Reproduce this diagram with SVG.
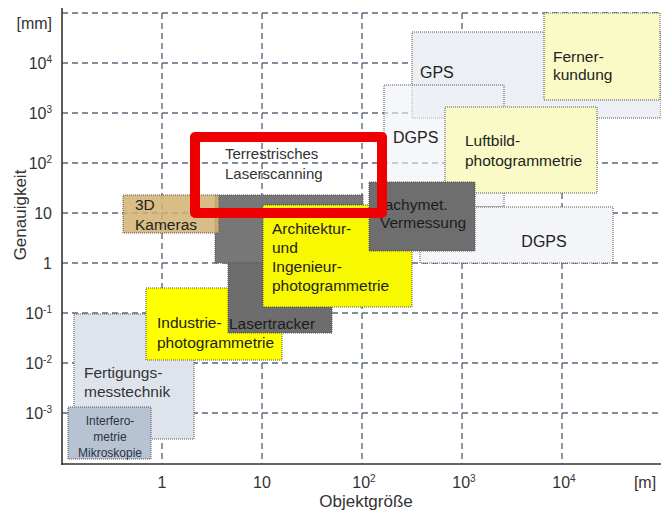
<svg xmlns="http://www.w3.org/2000/svg" width="661" height="511" viewBox="0 0 661 511">
  <style>
    text { font-family: "Liberation Sans", Arial, sans-serif; fill: #222; }
    .lbl { font-size: 15.5px; }
    .small { font-size: 12px; fill: #2a3340; }
    .axis { font-size: 16px; fill: #333; }
    .sup { font-size: 10px; }
    .grid line { stroke: #5c6a79; stroke-width: 1.4; stroke-dasharray: 6 4; }
    .box { stroke: #555; stroke-width: 1; stroke-dasharray: 1 1; }
  </style>

  <rect x="0" y="0" width="661" height="511" fill="#ffffff"/>

  <!-- dashed grid -->
  <g class="grid">
    <line x1="62" y1="13" x2="661" y2="13"/>
    <line x1="62" y1="63" x2="661" y2="63"/>
    <line x1="62" y1="113" x2="661" y2="113"/>
    <line x1="62" y1="163" x2="661" y2="163"/>
    <line x1="62" y1="213" x2="661" y2="213"/>
    <line x1="62" y1="263" x2="661" y2="263"/>
    <line x1="62" y1="313" x2="661" y2="313"/>
    <line x1="62" y1="363" x2="661" y2="363"/>
    <line x1="62" y1="413" x2="661" y2="413"/>
    <line x1="162" y1="13" x2="162" y2="464"/>
    <line x1="262" y1="13" x2="262" y2="464"/>
    <line x1="362" y1="13" x2="362" y2="464"/>
    <line x1="462" y1="13" x2="462" y2="464"/>
    <line x1="562" y1="13" x2="562" y2="464"/>
  </g>

  <!-- axes -->
  <g id="axes" stroke="#333" stroke-width="1.6" fill="none">
    <line x1="62" y1="8" x2="62" y2="465"/>
    <line x1="61" y1="464" x2="661" y2="464"/>
  </g>

  <!-- y tick labels -->
  <g id="y-labels" text-anchor="end">
    <text class="axis" x="52" y="29">[mm]</text>
    <text class="axis" x="52" y="69">10<tspan class="sup" dy="-6">4</tspan></text>
    <text class="axis" x="52" y="119">10<tspan class="sup" dy="-6">3</tspan></text>
    <text class="axis" x="52" y="169">10<tspan class="sup" dy="-6">2</tspan></text>
    <text class="axis" x="52" y="219">10</text>
    <text class="axis" x="52" y="269">1</text>
    <text class="axis" x="52" y="319">10<tspan class="sup" dy="-6">-1</tspan></text>
    <text class="axis" x="52" y="369">10<tspan class="sup" dy="-6">-2</tspan></text>
    <text class="axis" x="52" y="419">10<tspan class="sup" dy="-6">-3</tspan></text>
  </g>

  <!-- x tick labels and axis titles -->
  <g id="x-labels" text-anchor="middle">
    <text class="axis" x="162" y="488">1</text>
    <text class="axis" x="262" y="488">10</text>
    <text class="axis" x="364" y="488">10<tspan class="sup" dy="-6">2</tspan></text>
    <text class="axis" x="464" y="488">10<tspan class="sup" dy="-6">3</tspan></text>
    <text class="axis" x="564" y="488">10<tspan class="sup" dy="-6">4</tspan></text>
    <text class="axis" x="645" y="488">[m]</text>
    <text x="366" y="507" style="font-size:17px;fill:#333">Objektgröße</text>
    <text x="0" y="0" transform="translate(26 215) rotate(-90)" style="font-size:17px;fill:#333">Genauigkeit</text>
  </g>

  <!-- GPS -->
  <g id="gps">
    <rect class="box" x="412" y="32" width="249" height="86" fill="#eceff4"/>
    <text class="lbl" x="420" y="78" style="font-size:16px">GPS</text>
  </g>

  <!-- Fernerkundung -->
  <g id="fernerkundung">
    <rect class="box" x="544" y="13" width="116" height="87" fill="#fafac6"/>
    <text class="lbl" x="553" y="62">Ferner-</text>
    <text class="lbl" x="553" y="80">kundung</text>
  </g>

  <!-- DGPS (upper) -->
  <g id="dgps-upper">
    <rect class="box" x="384" y="85" width="120" height="122" fill="#eef1f6" fill-opacity="0.6"/>
    <text class="lbl" x="393" y="143" style="font-size:16px">DGPS</text>
  </g>

  <!-- DGPS (lower) -->
  <g id="dgps-lower">
    <rect class="box" x="420" y="207" width="193" height="56" fill="#f3f5f8"/>
    <text class="lbl" x="544" y="247" text-anchor="middle" style="font-size:16px">DGPS</text>
  </g>

  <!-- Luftbildphotogrammetrie -->
  <g id="luftbild">
    <rect class="box" x="445" y="107" width="152" height="86" fill="#fafac6"/>
    <text class="lbl" x="465" y="146">Luftbild-</text>
    <text class="lbl" x="465" y="166">photogrammetrie</text>
  </g>

  <!-- Fertigungsmesstechnik -->
  <g id="fertigung">
    <rect class="box" x="74" y="314" width="120" height="125" fill="#dfe4ec"/>
    <text class="lbl" x="84" y="378" style="fill:#333">Fertigungs-</text>
    <text class="lbl" x="84" y="397" style="fill:#333">messtechnik</text>
  </g>

  <!-- Interferometrie / Mikroskopie -->
  <g id="interferometrie" text-anchor="middle">
    <rect class="box" x="68" y="407" width="83" height="52" fill="#b7c3d3"/>
    <text class="small" x="110" y="425">Interfero-</text>
    <text class="small" x="110" y="441">metrie</text>
    <text class="small" x="110" y="457">Mikroskopie</text>
  </g>

  <!-- Industriephotogrammetrie -->
  <g id="industrie">
    <rect class="box" x="146" y="288" width="136" height="72" fill="#ffff00"/>
    <text class="lbl" x="157" y="328">Industrie-</text>
    <text class="lbl" x="157" y="348">photogrammetrie</text>
  </g>

  <!-- Terrestrisches Laserscanning -->
  <g id="tls">
    <rect class="box" x="215" y="195" width="148" height="68" fill="#777777"/>
    <text class="lbl" x="225" y="159" style="font-size:15px;fill:#333">Terrestrisches</text>
    <text class="lbl" x="225" y="179" style="font-size:15px;fill:#333">Laserscanning</text>
  </g>

  <!-- Lasertracker -->
  <g id="lasertracker">
    <rect class="box" x="228" y="263" width="104" height="70" fill="#6d6d6d"/>
    <text class="lbl" x="229" y="329" style="fill:#1c1c1c">Lasertracker</text>
  </g>

  <!-- Architektur- und Ingenieurphotogrammetrie -->
  <g id="architektur">
    <rect class="box" x="263" y="205" width="149" height="102" fill="#f8f800"/>
    <text class="lbl" x="272" y="234">Architektur-</text>
    <text class="lbl" x="272" y="253">und</text>
    <text class="lbl" x="272" y="272">Ingenieur-</text>
    <text class="lbl" x="272" y="291">photogrammetrie</text>
  </g>

  <!-- 3D Kameras -->
  <g id="kameras">
    <rect class="box" x="123" y="195" width="96" height="38" fill="#d2b172" fill-opacity="0.85"/>
    <text class="lbl" x="135" y="210">3D</text>
    <text class="lbl" x="135" y="230">Kameras</text>
  </g>

  <!-- Tachymetrische Vermessung -->
  <g id="tachymetrie">
    <rect class="box" x="369" y="182" width="106" height="69" fill="#6e6e6e"/>
    <text class="lbl" x="377" y="210" style="fill:#1c1c1c">Tachymet.</text>
    <text class="lbl" x="380" y="228" style="fill:#1c1c1c">Vermessung</text>
  </g>

  <!-- highlight frame -->
  <g id="highlight">
    <rect x="195" y="137" width="187" height="76" fill="none" stroke="#ee0000" stroke-width="10" stroke-linejoin="round"/>
  </g>
</svg>
